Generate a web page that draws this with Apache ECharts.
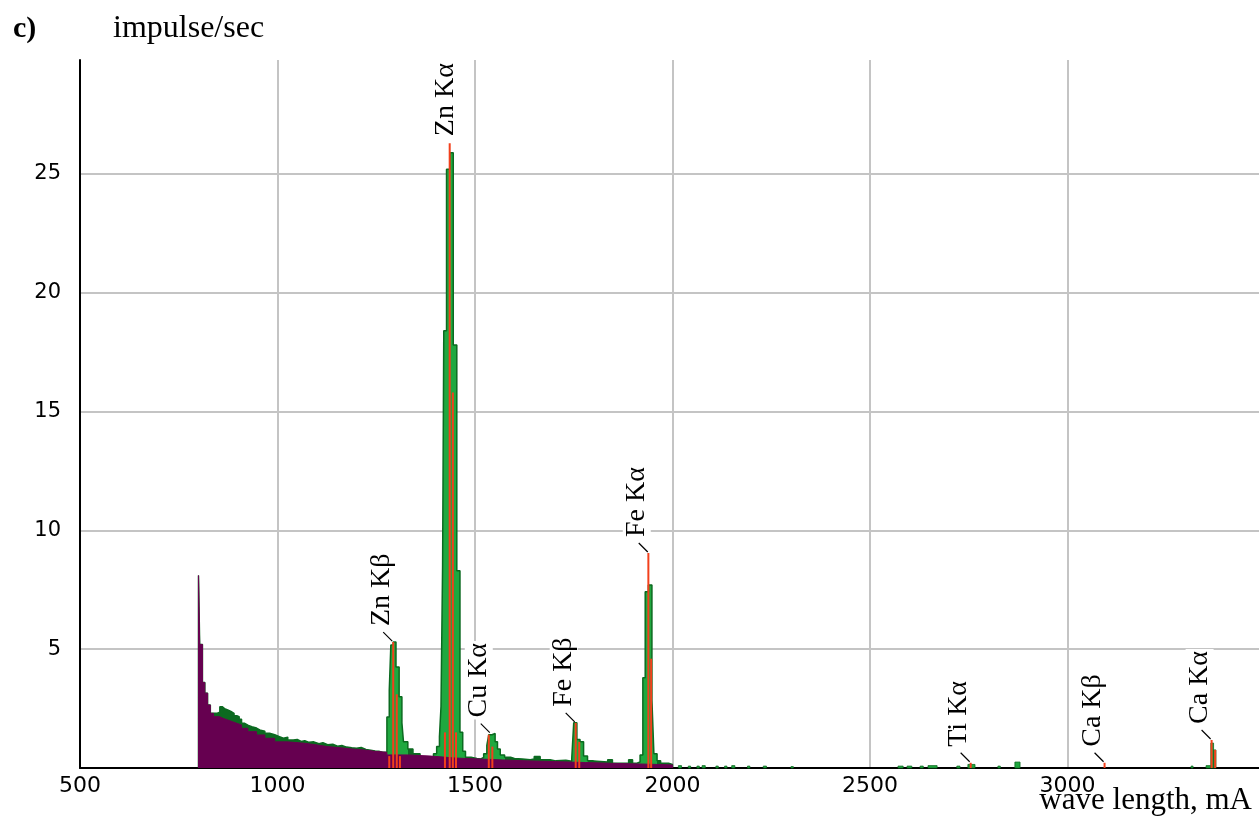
<!DOCTYPE html>
<html><head><meta charset="utf-8">
<script src="https://cdn.jsdelivr.net/npm/echarts@6/dist/echarts.min.js"></script>
<style>html,body{margin:0;padding:0;background:#fff}#c{width:1259px;height:830px}</style>
</head><body><div id="c"></div>
<script>
// ---- total spectrum (green), step histogram: bin start wavelength / count rate
const totalX = [800,803,810,816,823,830,838,846,854,860,866,874,882,890,897,903,909,917,925,935,
  947,955,968,980,993,1005,1015,1026,1040,1050,1060,1069,1080,1092,1105,1115,1127,1140,1152,1163,
  1175,1188,1200,1212,1224,1236,1247,1258,1266,1277,1283,1287,1293,1300,1308,1315,1319,1330,1343,1361,
  1380,1395,1403,1410,1414,1418,1421,1428,1437,1445,1454,1462,1469,1476,1490,1505,1515,1522,1530,1535,
  1543,1551,1557,1564,1575,1590,1600,1620,1640,1650,1665,1690,1705,1730,1745,1750,1758,1766,1775,1785,
  1800,1836,1848,1889,1899,1910,1918,1925,1931,1939,1948,1953,1961,1970,1990,2000];
const totalY = [8.1,5.2,3.6,3.15,2.65,2.3,2.3,2.35,2.58,2.5,2.44,2.38,2.3,2.2,2.16,2.05,1.88,1.8,1.74,1.68,
  1.6,1.55,1.46,1.4,1.32,1.25,1.3,1.18,1.2,1.12,1.15,1.08,1.1,1.02,1.06,0.98,1.0,0.92,0.95,0.88,
  0.85,0.83,0.86,0.78,0.75,0.72,0.7,0.66,0.67,2.15,3.28,5.18,5.3,4.25,3.0,1.9,1.1,0.8,0.6,0.47,
  0.45,0.6,0.9,1.3,2.6,8.5,18.4,25.2,25.9,17.8,8.3,1.5,0.7,0.45,0.4,0.38,0.45,0.6,0.95,1.4,
  1.45,1.1,0.8,0.55,0.45,0.4,0.38,0.35,0.38,0.48,0.35,0.3,0.33,0.28,0.4,1.9,1.2,1.1,0.5,0.3,
  0.25,0.35,0.2,0.35,0.2,0.25,0.55,3.8,7.42,7.7,2.86,0.6,0.3,0.2,0.15,0];

// ---- wavelength ranges of the resolved peaks (drawn in bright green)
const peakRangeStart = [1266,1395,1515,1745,1910];
const peakRangeEnd   = [1330,1476,1575,1785,1961];

// ---- background continuum (purple)
const bgX = [800,803,810,816,823,830,838,854,862,874,886,897,909,925,947,968,993,1026,1069,1100,
  1127,1160,1188,1220,1247,1277,1330,1390,1450,1510,1570,1630,1700,1780,1860,1940,2000];
const bgY = [8.1,5.2,3.6,3.15,2.65,2.3,2.16,2.09,2.02,1.95,1.88,1.81,1.67,1.53,1.39,1.25,1.10,1.04,0.97,0.90,
  0.85,0.80,0.76,0.70,0.66,0.55,0.50,0.42,0.38,0.34,0.30,0.27,0.23,0.19,0.16,0.13,0];

// ---- small counts beyond 2000 (bin start, bin end, value)
const tailStart = [2015,2040,2062,2075,2110,2132,2150,2190,2230,2300,2571,2594,2627,2647,2720,2748,2824,2867,3313,3351,3363,3370];
const tailEnd   = [2023,2046,2068,2083,2116,2138,2158,2196,2238,2306,2584,2606,2635,2670,2728,2766,2830,2880,3318,3363,3370,3376];
const tailY     = [0.1,0.08,0.08,0.1,0.08,0.08,0.1,0.08,0.08,0.06,0.08,0.08,0.08,0.1,0.08,0.15,0.08,0.25,0.08,0.1,1.05,0.76];

// ---- fitted line positions (red) and their heights
const lineX   = [1283,1293,1302,1310,1424,1436,1444,1452,1535,1544,1755,1764,1939,1946,2755,3094,3365,3374];
const lineTop = [0.5,5.3,3.1,0.5,1.5,26.3,15.8,1.5,1.4,0.9,1.9,1.1,9.05,4.6,0.22,0.22,1.18,0.76];

// ---- peak labels
const peakNames = ['Zn Kα','Zn Kβ','Cu Kα','Fe Kβ','Fe Kα','Ti Kα','Ca Kβ','Ca Kα'];
const peakX     = [1436,1293,1540,1755,1940,2755,3094,3365];
const peakY     = [26.3,5.3,1.45,1.9,9.05,0.22,0.22,1.18];
const peakLeader= [0,1,1,1,1,1,1,1];

const X_MIN = 500, X_MAX = 3485, Y_MAX = 29.8;

function stepData(xs, ys){
  const d = [[xs[0], 0]];
  for (let i = 0; i < xs.length; i++) d.push([xs[i], ys[i]]);
  return d;
}

const DARK_GREEN = '#0b6a20', BRIGHT_GREEN = '#1fa83f';
function greenFill(){
  const x0 = totalX[0], x1 = totalX[totalX.length - 1], span = x1 - x0;
  const stops = [{offset: 0, color: DARK_GREEN}];
  for (let i = 0; i < peakRangeStart.length; i++) {
    const a = (peakRangeStart[i] - x0) / span, b = (peakRangeEnd[i] - x0) / span;
    stops.push({offset: a, color: DARK_GREEN}, {offset: a, color: BRIGHT_GREEN},
               {offset: b, color: BRIGHT_GREEN}, {offset: b, color: DARK_GREEN});
  }
  stops.push({offset: 1, color: DARK_GREEN});
  return new echarts.graphic.LinearGradient(0, 0, 1, 0, stops, false);
}

const chart = echarts.init(document.getElementById('c'), null, {renderer:'canvas'});
const tickFont = '"DejaVu Sans", sans-serif';
const serif = '"Liberation Serif", "Times New Roman", serif';

chart.setOption({
  animation: false,
  backgroundColor: '#fff',
  grid: {left: 80, right: 0, top: 60, bottom: 62, containLabel: false},
  graphic: [
    {type:'text', left: 13, top: 14, style:{text:'c)', font:'bold 30px ' + serif, fill:'#000'}},
    {type:'text', left: 113, top: 13, style:{text:'impulse/sec', font:'32px ' + serif, fill:'#000'}},
    {type:'text', right: 7, top: 785, style:{text:'wave length, mA', font:'31px ' + serif, fill:'#000'}}
  ],
  xAxis: {
    type: 'value', min: X_MIN, max: X_MAX, interval: 500,
    axisLine: {show: true, onZero: false, lineStyle: {color: '#000', width: 2}},
    axisTick: {show: false},
    axisLabel: {color: '#000', fontFamily: tickFont, fontSize: 22, margin: 7, showMaxLabel: false,
      formatter: v => String(v)},
    splitLine: {show: true, showMinLine: false, showMaxLine: false, lineStyle: {color: '#c4c4c4', width: 2}}
  },
  yAxis: {
    type: 'value', min: 0, max: Y_MAX, interval: 5,
    axisLine: {show: true, lineStyle: {color: '#000', width: 2}},
    axisTick: {show: false},
    axisLabel: {color: '#000', fontFamily: tickFont, fontSize: 21, margin: 19, showMinLabel: false, showMaxLabel: false,
      formatter: v => String(v)},
    splitLine: {show: true, showMinLine: false, showMaxLine: false, lineStyle: {color: '#c4c4c4', width: 2}}
  },
  series: [
    {
      type: 'line', name: 'total', step: 'end', showSymbol: false, symbol: 'none',
      data: stepData(totalX, totalY),
      lineStyle: {color: DARK_GREEN, width: 1.5},
      areaStyle: {color: greenFill(), opacity: 1},
      z: 2
    },
    {
      type: 'custom', name: 'tail',
      data: tailStart.map((s, i) => [s, tailEnd[i], tailY[i]]),
      encode: {x: [0, 1], y: 2},
      renderItem: function (params, api) {
        const a = api.coord([api.value(0), api.value(2)]);
        const b = api.coord([api.value(1), 0]);
        return {type: 'rect', shape: {x: a[0], y: a[1], width: Math.max(b[0] - a[0], 1.5), height: b[1] - a[1]},
          style: {fill: BRIGHT_GREEN, stroke: DARK_GREEN, lineWidth: 0.8}};
      },
      z: 3
    },
    {
      type: 'line', name: 'background', step: 'end', showSymbol: false, symbol: 'none',
      data: stepData(bgX, bgY),
      lineStyle: {color: '#6a0050', width: 1},
      areaStyle: {color: '#660050', opacity: 1},
      z: 4
    },
    {
      type: 'custom', name: 'lines',
      data: lineX.map((x, i) => [x, lineTop[i]]),
      encode: {x: 0, y: 1},
      renderItem: function (params, api) {
        const p0 = api.coord([api.value(0), 0]);
        const p1 = api.coord([api.value(0), api.value(1)]);
        return {type: 'line', shape: {x1: p0[0], y1: p0[1], x2: p1[0], y2: p1[1]},
          style: {stroke: '#f2401c', lineWidth: 2}};
      },
      z: 5
    },
    {
      type: 'custom', name: 'labels',
      data: peakX.map((x, i) => [x, peakY[i]]),
      encode: {x: 0, y: 1},
      renderItem: function (params, api) {
        const i = params.dataIndex;
        const p = api.coord([api.value(0), api.value(1)]);
        const children = [];
        let tx, ty;
        if (peakLeader[i]) {
          children.push({type: 'line', shape: {x1: p[0] - 10, y1: p[1] - 10, x2: p[0] - 1, y2: p[1] - 1},
            style: {stroke: '#000', lineWidth: 1.2}});
          tx = p[0] - 12; ty = p[1] - 14;
        } else {
          tx = p[0] - 4; ty = p[1] - 5;
        }
        children.push({type: 'text', x: tx, y: ty, rotation: Math.PI / 2,
          style: {text: peakNames[i], font: '28px ' + serif, fill: '#000', align: 'left', verticalAlign: 'middle',
            backgroundColor: '#fff', padding: [0, 2, 0, 2]}});
        return {type: 'group', children: children};
      },
      z: 6
    }
  ]
});
</script></body></html>
